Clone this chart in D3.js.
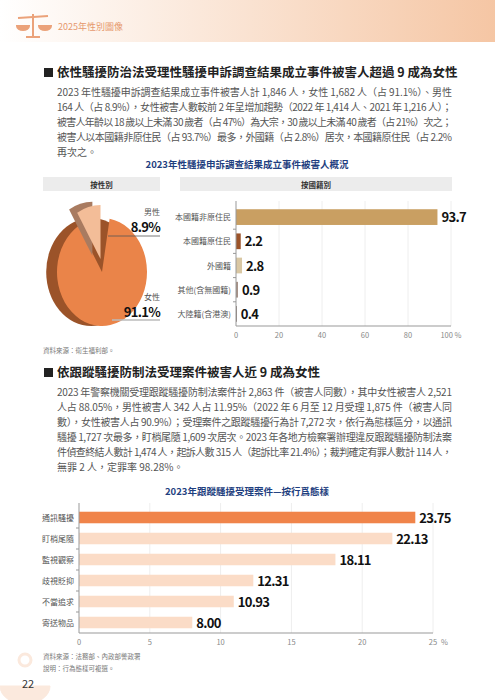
<!DOCTYPE html>
<html><head><meta charset="utf-8">
<script src="https://cdn.jsdelivr.net/npm/d3@7"></script>
<style>body{margin:0;background:#fff}svg{display:block}text{font-family:"Noto Sans CJK TC","Noto Sans",sans-serif}.num{font-stretch:condensed;letter-spacing:-0.7px}</style>
</head><body><svg id="c" width="495" height="700"></svg>
<script>
var genderLabels = ["女性", "男性"];
var genderValues = [91.1, 8.9];
var natCats = ["本國籍非原住民", "本國籍原住民", "外國籍", "其他(含無國籍)", "大陸籍(含港澳)"];
var natValues = [93.7, 2.2, 2.8, 0.9, 0.4];
var natTicks = [0, 20, 40, 60, 80, 100];
var stalkCats = ["通訊騷擾", "盯梢尾隨", "監視觀察", "歧視貶抑", "不當追求", "寄送物品"];
var stalkValues = [23.75, 22.13, 18.11, 12.31, 10.93, 8.00];
var stalkTicks = [0, 5, 10, 15, 20, 25];
var para1 = [
  "2023 年性騷擾申訴調查結果成立事件被害人計 1,846 人，女性 1,682 人（占 91.1%）、男性",
  "164 人（占 8.9%），女性被害人數較前 2 年呈增加趨勢（2022 年 1,414 人、2021 年 1,216 人）；",
  "被害人年齡以 18 歲以上未滿 30 歲者（占 47%）為大宗，30 歲以上未滿 40 歲者（占 21%）次之；",
  "被害人以本國籍非原住民（占 93.7%）最多，外國籍（占 2.8%）居次，本國籍原住民（占 2.2%",
  "再次之。"];
var para2 = [
  "2023 年警察機關受理跟蹤騷擾防制法案件計 2,863 件（被害人同數），其中女性被害人 2,521",
  "人占 88.05%，男性被害人 342 人占 11.95%（2022 年 6 月至 12 月受理 1,875 件（被害人同",
  "數），女性被害人占 90.9%）；受理案件之跟蹤騷擾行為計 7,272 次，依行為態樣區分，以通訊",
  "騷擾 1,727 次最多，盯梢尾隨 1,609 次居次。2023 年各地方檢察署辦理違反跟蹤騷擾防制法案",
  "件偵查終結人數計 1,474 人，起訴人數 315 人（起訴比率 21.4%）；裁判確定有罪人數計 114 人，",
  "無罪 2 人，定罪率 98.28%。"];

var svg = d3.select("#c");
var num = '"DejaVu Sans Condensed","DejaVu Sans",sans-serif';

// header
var g = svg.append("defs").append("linearGradient").attr("id", "hd");
g.append("stop").attr("offset", "0").attr("stop-color", "#fff");
g.append("stop").attr("offset", "1").attr("stop-color", "#f5c6a4");
svg.append("rect").attr("width", 495).attr("height", 42).attr("fill", "url(#hd)");
var ic = svg.append("g").attr("stroke", "#eba27a").attr("stroke-width", 2).attr("fill", "none");
ic.append("line").attr("x1", 33).attr("x2", 33).attr("y1", 14).attr("y2", 36);
ic.append("line").attr("x1", 18).attr("x2", 48).attr("y1", 18).attr("y2", 16);
ic.append("line").attr("x1", 26).attr("x2", 40).attr("y1", 37).attr("y2", 37);
ic.append("path").attr("d", "M17,26 a6,4 0 0 0 12,0 z").attr("fill", "#eba27a");
ic.append("path").attr("d", "M39,26 a6,4 0 0 0 12,0 z").attr("fill", "#eba27a");
svg.append("text").attr("x", 58).attr("y", 30).attr("font-size", 9).attr("fill", "#e6996e").text("2025年性別圖像");

function section(y, title) {
  svg.append("rect").attr("x", 44).attr("y", y - 9).attr("width", 9).attr("height", 9).attr("fill", "#222");
  svg.append("text").attr("x", 57).attr("y", y).attr("font-size", 12.5).attr("font-weight", "bold")
    .attr("font-family", '"Noto Serif CJK TC","Noto Sans CJK TC",serif').attr("fill", "#222").text(title);
}
function para(y0, lines) {
  lines.forEach(function (l, i) {
    var t = svg.append("text").attr("x", 57).attr("y", y0 + i * 15).attr("font-size", 10).attr("fill", "#555").text(l);
    if (i < lines.length - 1) t.attr("textLength", 395).attr("lengthAdjust", "spacing");
  });
}
section(77, "依性騷擾防治法受理性騷擾申訴調查結果成立事件被害人超過 9 成為女性");
para(96, para1);
svg.append("text").attr("x", 247).attr("y", 168).attr("text-anchor", "middle").attr("font-size", 9.5)
  .attr("font-weight", "bold").attr("fill", "#1f3f80").text("2023年性騷擾申訴調查結果成立事件被害人概況");

[[43, 160, "按性別"], [180, 452, "按國籍別"]].forEach(function (d) {
  svg.append("rect").attr("x", d[0]).attr("y", 177).attr("width", d[1] - d[0]).attr("height", 14).attr("fill", "#ececec");
  svg.append("text").attr("x", (d[0] + d[1]) / 2).attr("y", 188).attr("text-anchor", "middle")
    .attr("font-size", 7.5).attr("font-weight", "bold").attr("fill", "#333").text(d[2]);
});

// pie
var pie = d3.pie().sort(null).startAngle(0.17)(genderValues);
var arc = d3.arc().innerRadius(0).outerRadius(50);
var pg = svg.append("g").attr("transform", "translate(102,272) scale(0.9,1.08)");
pg.append("ellipse").attr("cx", -12).attr("cy", 0).attr("rx", 50).attr("ry", 50).attr("fill", "#9b5329");
pg.append("path").attr("d", arc(pie[0])).attr("fill", "#ea8449");
var mc = arc.centroid(pie[1]);
var mg = pg.append("g").attr("transform", "translate(" + mc[0] * 0.25 + "," + (mc[1] * 0.25 - 6) + ")");
mg.append("path").attr("transform", "translate(-9,-3)").attr("d", arc(pie[1])).attr("fill", "#a97b60");
mg.append("path").attr("d", arc(pie[1])).attr("fill", "#f3bd98");
svg.append("line").attr("x1", 108).attr("x2", 160).attr("y1", 236).attr("y2", 236).attr("stroke", "#555").attr("stroke-width", 0.8);
svg.append("line").attr("x1", 112).attr("x2", 160).attr("y1", 320).attr("y2", 320).attr("stroke", "#bbb").attr("stroke-width", 1.5);
[[genderLabels[1], genderValues[1], 215], [genderLabels[0], genderValues[0], 300]].forEach(function (d) {
  svg.append("text").attr("x", 160).attr("y", d[2]).attr("text-anchor", "end").attr("font-size", 8).attr("fill", "#555").text(d[0]);
  svg.append("text").attr("class", "num").attr("x", 160).attr("y", d[2] + 17).attr("text-anchor", "end").attr("font-size", 13)
    .attr("font-weight", "bold").attr("font-family", num).attr("fill", "#111").text(d[1].toFixed(1) + "%");
});

function hbar(o) {
  var x = d3.scaleLinear().domain([0, o.ticks[o.ticks.length - 1]]).range([o.x0, o.x1]);
  var y = d3.scaleBand().domain(o.cats).range([o.y0, o.y1]).paddingInner(o.pad).paddingOuter(o.pad / 2);
  var gg = svg.append("g");
  gg.selectAll(".gl").data(o.ticks.slice(1)).enter().append("line").attr("x1", x).attr("x2", x)
    .attr("y1", o.y0 - 4).attr("y2", o.y1).attr("stroke", "#eee");
  gg.selectAll(".b").data(o.vals).enter().append("rect").attr("x", o.x0)
    .attr("y", function (d, i) { return y(o.cats[i]); }).attr("height", y.bandwidth())
    .attr("width", function (d) { return x(d) - o.x0; }).attr("fill", function (d, i) { return o.colors[i]; });
  gg.selectAll(".v").data(o.vals).enter().append("text").attr("class", "num").attr("x", function (d) { return x(d) + 4; })
    .attr("y", function (d, i) { return y(o.cats[i]) + y.bandwidth() / 2 + 5; })
    .attr("font-size", 13).attr("font-weight", "bold").attr("font-family", num).attr("fill", "#111")
    .text(function (d) { return d.toFixed(o.dec); });
  gg.selectAll(".c").data(o.cats).enter().append("text").attr("x", o.x0 - 5)
    .attr("y", function (d) { return y(d) + y.bandwidth() / 2 + 3; }).attr("text-anchor", "end")
    .attr("font-size", 8).attr("fill", "#555").text(function (d) { return d; });
  gg.append("line").attr("x1", o.x0).attr("x2", o.x1).attr("y1", o.y1).attr("y2", o.y1).attr("stroke", "#999");
  gg.append("line").attr("x1", o.x0).attr("x2", o.x0).attr("y1", o.y0 - 4).attr("y2", o.y1).attr("stroke", "#999");
  y.domain().forEach(function (c, i) {
    if (i > 0) gg.append("line").attr("x1", o.x0 - 3).attr("x2", o.x0).attr("y1", y(c) - y.step() * o.pad / 2)
      .attr("y2", y(c) - y.step() * o.pad / 2).attr("stroke", "#999");
  });
  gg.selectAll(".t").data(o.ticks).enter().append("text").attr("x", x).attr("y", o.y1 + 12)
    .attr("text-anchor", "middle").attr("font-size", 7.5).attr("fill", "#888")
    .text(function (d, i) { return (o.unit && i === o.ticks.length - 1) ? d + " %" : d; });
}
hbar({ cats: natCats, vals: natValues, ticks: natTicks, x0: 236, x1: 451, y0: 205, y1: 326, pad: 0.35, dec: 1,
  colors: ["#c99f62", "#9b5329", "#d9c7a3", "#a18a7f", "#7b6b66"], unit: true });
svg.append("text").attr("x", 43).attr("y", 353).attr("font-size", 6.5).attr("fill", "#777").text("資料來源：衛生福利部。");

section(377, "依跟蹤騷擾防制法受理案件被害人近 9 成為女性");
para(396, para2);
svg.append("text").attr("x", 247).attr("y", 495).attr("text-anchor", "middle").attr("font-size", 9.5)
  .attr("font-weight", "bold").attr("fill", "#1f3f80").text("2023年跟蹤騷擾受理案件—按行爲態樣");

hbar({ cats: stalkCats, vals: stalkValues, ticks: stalkTicks, x0: 79, x1: 433, y0: 507, y1: 633, pad: 0.45, dec: 2,
  colors: ["#f0844a", "#fbdcc7", "#fbdcc7", "#fbdcc7", "#fbdcc7", "#fbdcc7"] });
svg.append("text").attr("x", 448).attr("y", 645).attr("text-anchor", "end").attr("font-size", 7.5).attr("fill", "#888").text("%");
svg.append("text").attr("x", 43).attr("y", 659).attr("font-size", 6.5).attr("fill", "#777").text("資料來源：法務部、內政部警政署");
svg.append("text").attr("x", 43).attr("y", 671).attr("font-size", 6.5).attr("fill", "#777").text("說明：行為態樣可複選。");
var bi = svg.append("g").attr("fill", "#fbe9dd").attr("stroke", "#fbe9dd");
bi.append("path").attr("d", "M0,686 a25,18 0 0 0 50,0 z");
bi.append("circle").attr("cx", 25).attr("cy", 660).attr("r", 6).attr("fill", "none").attr("stroke-width", 3);
svg.append("text").attr("x", 22).attr("y", 688).attr("font-size", 11).attr("fill", "#333").text("22");
</script></body></html>
